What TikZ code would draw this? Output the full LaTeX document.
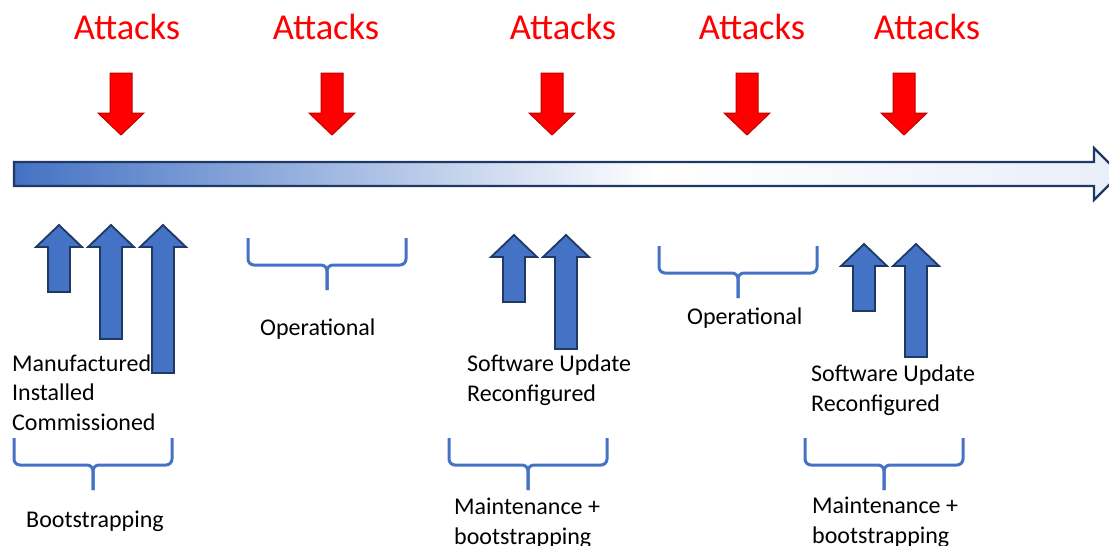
\documentclass[tikz,border=0pt]{standalone}
\usepackage{fontspec}
\setmainfont{Carlito}
\usetikzlibrary{calc}

\definecolor{accentblue}{HTML}{4472C4}
\definecolor{navy}{HTML}{1F3864}
\definecolor{darkred}{HTML}{C00000}
\pgfdeclarehorizontalshading{timelineshade}{100bp}{color(0bp)=(accentblue); color(25bp)=(accentblue); color(54bp)=(white); color(75bp)=(accentblue!12); color(100bp)=(accentblue!12)}

\begin{document}
\begin{tikzpicture}[
    x=1pt, y=-1pt, % pixel grid, y running downwards
    labelstyle/.style={inner sep=0pt, anchor=base west, align=left, font=\fontsize{24}{29.3}\selectfont}, % base = last line
    attackstyle/.style={inner sep=0pt, anchor=base, text=red, font=\fontsize{36.5}{40}\selectfont},
    bracestyle/.style={accentblue, line width=3pt, rounded corners=6pt},
    bluearrow/.style={fill=accentblue, draw=navy, line width=1.8pt},
    redarrow/.style={fill=red, draw=darkred, line width=1pt},
    pics/attack/.style={code={\draw[redarrow] (-11,0) -- (11,0) -- (11,40) -- (23,40) -- (0,62) -- (-23,40) -- (-11,40) -- cycle;}},
    pics/lift/.style={code={\draw[bluearrow] (0,0) -- (23,22) -- (11,22) -- (11,#1) -- (-11,#1) -- (-11,22) -- (-23,22) -- cycle;}},
    pics/phase/.style={code={
        \draw[bracestyle] (-79,0) -- (-79,27) -- (0,27) -- (0,52);
        \draw[bracestyle] (79,0) -- (79,27) -- (0,27) -- (0,52);}}
]
    \useasboundingbox (0,0) rectangle (1109,546);
    \clip (0,0) rectangle (1109,546);

    % Time line
    \shadedraw[shading=timelineshade, draw=navy, line width=2.2pt] (14,162) -- (1094,162) -- (1094,148) -- (1120,174) -- (1094,200) -- (1094,186) -- (14,186) -- cycle;

    % Attacks from above
    \node[attackstyle] (attack1) at (127,39) {Attacks};
    \node[attackstyle] (attack2) at (326,39) {Attacks};
    \node[attackstyle] (attack3) at (563,39) {Attacks};
    \node[attackstyle] (attack4) at (752,39) {Attacks};
    \node[attackstyle] (attack5) at (927,39) {Attacks};
    \pic at (121,73) {attack};
    \pic at (332,73) {attack};
    \pic at (552,73) {attack};
    \pic at (747,73) {attack};
    \pic at (904,73) {attack};

    % Events below the time line
    \node[labelstyle] (lifecycle) at (12,430) {Manufactured\\Installed\\Commissioned};
    \pic at (59,225) {lift=67};
    \pic at (111,225) {lift=114};
    \pic at (163,225) {lift=148};

    \node[labelstyle] (update1) at (467,401) {Software Update\\Reconfigured};
    \pic at (514,235) {lift=67};
    \pic at (566,235) {lift=114};

    \node[labelstyle] (update2) at (811,411) {Software Update\\Reconfigured};
    \pic at (864,244) {lift=67};
    \pic at (916,244) {lift=113};

    % Phases
    \pic at (93,438) {phase};
    \node[labelstyle] (boot) at (26,527) {Bootstrapping};
    \pic at (327,238) {phase};
    \node[labelstyle] (ops1) at (260,335) {Operational};
    \pic at (528,438) {phase};
    \node[labelstyle] (maint1) at (454,544) {Maintenance +\\bootstrapping};
    \pic at (738,246) {phase};
    \node[labelstyle] (ops2) at (687,324) {Operational};
    \pic at (884,438) {phase};
    \node[labelstyle] (maint2) at (812,543) {Maintenance +\\bootstrapping};

\end{tikzpicture}
\end{document}
